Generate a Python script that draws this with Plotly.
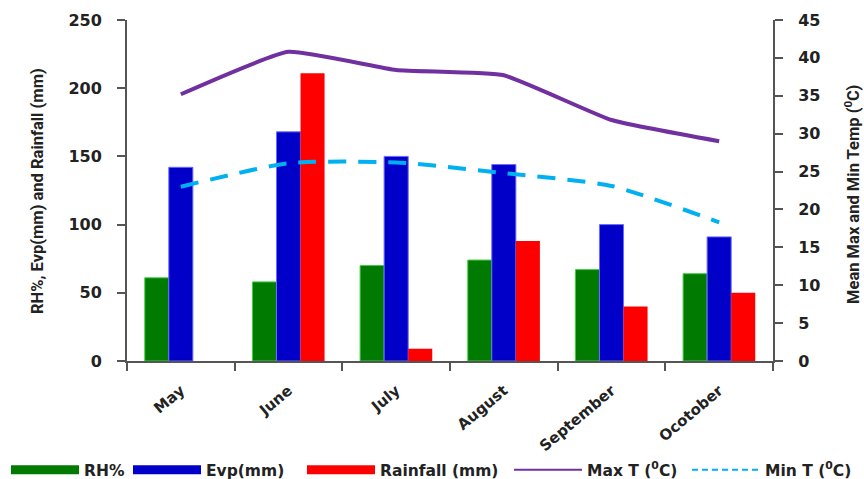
import plotly.graph_objects as go

months = ["May", "June", "July", "August", "September", "Ocotober"]
rh = [61, 58, 70, 74, 67, 64]
evp = [142, 168, 150, 144, 100, 91]
rain = [0, 211, 9, 88, 40, 50]
max_t = [35.2, 40.8, 38.4, 37.7, 31.8, 29.0]
min_t = [23.0, 26.1, 26.2, 24.8, 23.1, 18.3]

TFONT = "Roboto"        # vertical titles
HFONT = "DejaVu Sans"   # horizontal texts (reference is stretched horizontally)
TXT = "#222222"
GREEN, BLUE, RED = "#007A00", "#0000C8", "#FF0000"
PURPLE, CYAN = "#7030A0", "#00B0F0"

fig = go.Figure()
fig.add_trace(go.Bar(x=months, y=rh, name="RH%", showlegend=False,
                     marker=dict(color=GREEN, line=dict(color="#3FCF3F", width=1))))
fig.add_trace(go.Bar(x=months, y=evp, name="Evp(mm)", showlegend=False,
                     marker=dict(color=BLUE, line=dict(color="#6A6AFF", width=1))))
fig.add_trace(go.Bar(x=months, y=rain, name="Rainfall (mm)", showlegend=False,
                     marker=dict(color=RED, line=dict(color="#FF6A6A", width=0))))
fig.add_trace(go.Scatter(x=months, y=max_t, name="Max T (<sup>0</sup>C)", yaxis="y2", mode="lines",
                         showlegend=False,
                         line=dict(color=PURPLE, width=4, shape="spline", smoothing=0.4)))
fig.add_trace(go.Scatter(x=months, y=min_t, name="Min T (<sup>0</sup>C)", yaxis="y2", mode="lines",
                         showlegend=False,
                         line=dict(color=CYAN, width=4, dash="18px,12px", shape="spline", smoothing=0.6)))

# legend entries (one legend per entry so they can be spread across the width)
legend_items = [
    ("RH%", dict(color=GREEN, width=9), "legend"),
    ("Evp(mm)", dict(color=BLUE, width=9), "legend2"),
    ("Rainfall (mm)", dict(color=RED, width=9), "legend3"),
    ("Max T (<sup>0</sup>C)", dict(color=PURPLE, width=2), "legend4"),
    ("Min T (<sup>0</sup>C)", dict(color=CYAN, width=2, dash="6px,4px"), "legend5"),
]
for name, ln, lg in legend_items:
    fig.add_trace(go.Scatter(x=[None], y=[None], mode="lines", name=name, line=ln, legend=lg,
                             showlegend=True))

axis_common = dict(showline=True, linecolor="#555555", linewidth=2, ticks="outside", ticklen=8,
                   tickcolor="#555555", tickwidth=2, showgrid=False, zeroline=False, automargin=False,
                   tickfont=dict(family=HFONT, size=16, color=TXT, weight="bold"))

plot_l, plot_w = 127, 646
def px_to_paper(px):
    return (px - plot_l) / plot_w

leg_y = -0.32
leg_font = dict(family=HFONT, size=15.5, color=TXT, weight="bold")
text_starts = [86, 208, 382, 589, 767]
legends = {}
for key, ts in zip(["legend", "legend2", "legend3", "legend4", "legend5"], text_starts):
    legends[key] = dict(orientation="h", x=px_to_paper(ts - 80), xanchor="left", y=leg_y, yanchor="middle",
                        font=leg_font, bgcolor="rgba(0,0,0,0)", itemwidth=68)

fig.update_layout(
    width=864, height=479,
    margin=dict(l=127, r=91, t=20, b=118, autoexpand=False),
    paper_bgcolor="white", plot_bgcolor="white",
    barmode="group", bargap=0.33, bargroupgap=0,
    font=dict(family=HFONT, color=TXT),
    xaxis=dict(**{**axis_common, "tickfont": dict(family=HFONT, size=15, color=TXT, weight="bold")},
               type="category", tickson="boundaries", tickangle=-40, ticklabelstandoff=13),
    yaxis=dict(**axis_common, range=[0, 250], dtick=50, ticklabelstandoff=12),
    yaxis2=dict(**axis_common, range=[0, 45], dtick=5, overlaying="y", side="right", ticklabelstandoff=12),
    annotations=[
        dict(text="RH%, Evp(mm) and Rainfall (mm)", textangle=-90, xref="paper", yref="paper",
             x=px_to_paper(37), y=0.4985, showarrow=False, xanchor="center", yanchor="middle",
             font=dict(family=TFONT, size=16.5, color=TXT, weight="bold")),
        dict(text="Mean Max and Min Temp (<sup>0</sup>C)", textangle=-90, xref="paper", yref="paper",
             x=px_to_paper(852), y=0.487, showarrow=False, xanchor="center", yanchor="middle",
             font=dict(family=TFONT, size=16.5, color=TXT, weight="bold")),
    ],
    **legends,
)

fig.write_html("out.html", config={"displayModeBar": False},
               post_script="document.body.style.margin='0';document.body.style.overflow='hidden';")
